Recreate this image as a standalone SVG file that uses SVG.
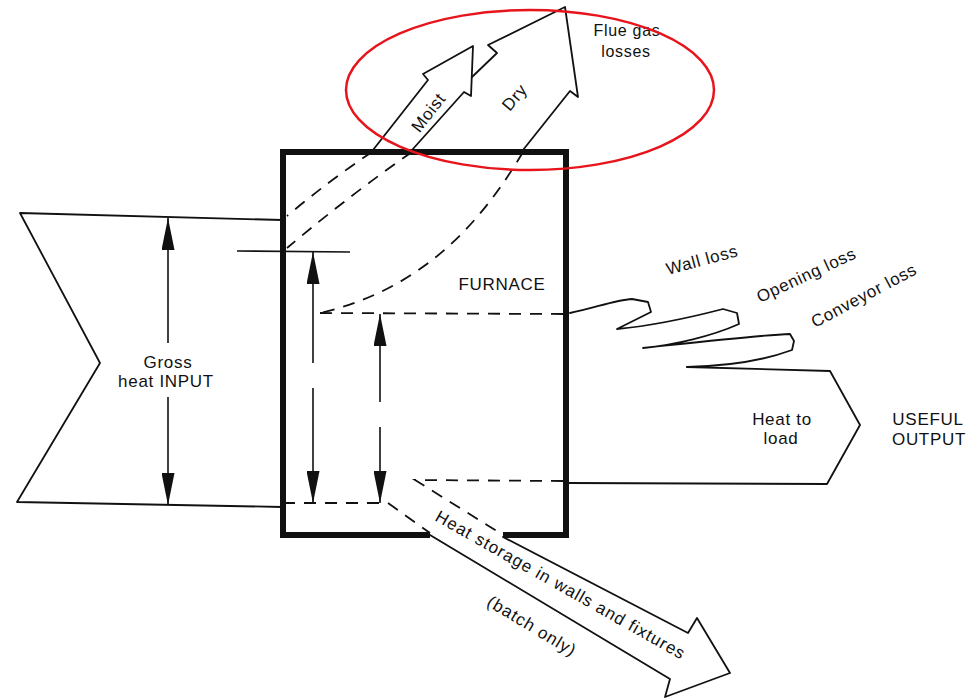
<svg xmlns="http://www.w3.org/2000/svg" width="974" height="698" viewBox="0 0 974 698">
  <style>
    .ln{fill:none;stroke:#111;stroke-width:1.8;stroke-linejoin:round;stroke-linecap:round}
    .dash{fill:none;stroke:#111;stroke-width:1.8;stroke-dasharray:12 9}
    .dim{fill:none;stroke:#111;stroke-width:1.6}
    .t{font-family:"Liberation Sans",Arial,sans-serif;font-size:17px;fill:#111;letter-spacing:0.7px}
    .c{text-anchor:middle}
  </style>
  <defs>
    <marker id="ah" viewBox="0 0 32 13" refX="32" refY="6.5" markerWidth="32" markerHeight="13" markerUnits="userSpaceOnUse" orient="auto-start-reverse">
      <path d="M0,0 L32,6.5 L0,13 z" fill="#111"/>
    </marker>
  </defs>
  <rect width="974" height="698" fill="#fff"/>

  <g id="input">
    <path class="ln" d="M282,220 L20,213 L100,363 L17,502 L282,507"/>
    <text class="t c" x="168" y="368">Gross</text>
    <text class="t c" x="166" y="387">heat INPUT</text>
  </g>

  <g id="flue-moist">
    <path class="ln" d="M373,150 L428,80 L423,74 L473,46 L471,96 L464,92 L412,150"/>
    <text class="t c" transform="translate(433,116) rotate(-52)">Moist</text>
  </g>

  <g id="flue-dry">
    <path class="ln" d="M472,77 L497,53 L488,45 L565,7 L578,97 L570,91 L523,150"/>
    <text class="t c" transform="translate(519,101) rotate(-50)">Dry</text>
  </g>

  <g id="flue-label">
    <text class="t c" style="font-size:16px" x="627" y="36">Flue gas</text>
    <text class="t c" style="font-size:16px" x="626" y="57">losses</text>
  </g>

  <g id="losses">
    <path class="ln" d="M570,313 C595,308 615,300 632,299 L648,302 L651,312 L617,329 C660,325 700,315 723,309 L737,313 L739,324 C712,336 675,345 643,348 C690,343 760,335 790,334 L794,341 L792,350 C765,360 730,366 687,367"/>
    <text class="t" transform="translate(668,275) rotate(-15)">Wall loss</text>
    <text class="t" transform="translate(760,303) rotate(-25)">Opening loss</text>
    <text class="t" transform="translate(815,328) rotate(-28)">Conveyor loss</text>
  </g>

  <g id="output">
    <path class="ln" d="M687,367 L830,371 L860,425 L827,484 L568,483"/>
    <text class="t c" x="782" y="425">Heat to</text>
    <text class="t c" x="781" y="444">load</text>
    <text class="t c" x="928" y="425">USEFUL</text>
    <text class="t c" x="929" y="445">OUTPUT</text>
  </g>

  <g id="storage">
    <path class="ln" d="M503,537 L688,633 L697,618 L730,673 L665,697 L670,679 L430,535"/>
    <text class="t" style="letter-spacing:1px" transform="translate(434,520) rotate(29.5)">Heat storage in walls and fixtures</text>
    <text class="t c" style="letter-spacing:1px" transform="translate(529,631) rotate(31)">(batch only)</text>
  </g>

  <g id="connectors">
    <path class="dash" d="M372,152 Q330,180 287,216"/>
    <path class="dash" d="M412,152 Q350,195 287,248"/>
    <path class="dash" d="M523,152 C480,225 420,290 320,313"/>
    <path class="dash" d="M320,313 L563,314"/>
    <path class="dash" d="M563,481 L415,480 L503,535"/>
    <path class="dash" d="M283,503 L388,503 L430,533"/>
    <path class="dim" d="M237,251 L350,252"/>
    <path class="dim" d="M168,343 L168,218" marker-end="url(#ah)"/>
    <path class="dim" d="M168,397 L168,505" marker-end="url(#ah)"/>
    <path class="dim" d="M313,363 L313,252" marker-end="url(#ah)"/>
    <path class="dim" d="M313,388 L313,503" marker-end="url(#ah)"/>
    <path class="dim" d="M380,402 L380,314" marker-end="url(#ah)"/>
    <path class="dim" d="M380,427 L380,503" marker-end="url(#ah)"/>
  </g>

  <g id="furnace">
    <path d="M430,535 L283,535 L283,152 L566,152 L566,535 L503,535" fill="none" stroke="#111" stroke-width="6" stroke-linejoin="miter"/>
    <text class="t c" x="502" y="290">FURNACE</text>
  </g>

  <g id="highlight">
    <ellipse cx="530" cy="90" rx="184" ry="80" fill="none" stroke="#e8141c" stroke-width="2.5"/>
  </g>
</svg>
